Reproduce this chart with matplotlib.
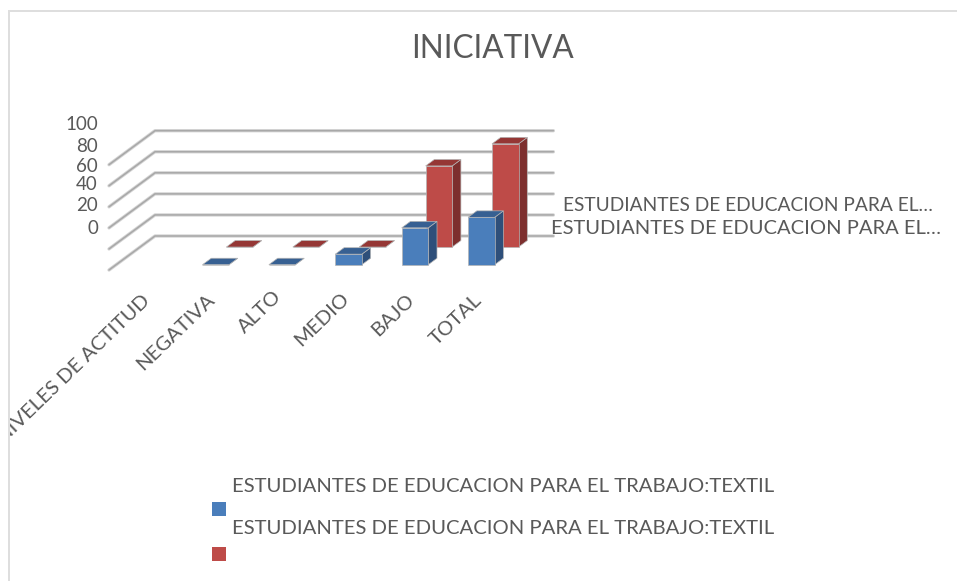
import matplotlib
matplotlib.use("agg")
import matplotlib.pyplot as plt
from matplotlib.patches import Polygon, Rectangle
from matplotlib.transforms import Bbox, TransformedBbox

W, H = 957, 581

categories = ['NIVELES DE ACTITUD', 'NEGATIVA', 'ALTO', 'MEDIO', 'BAJO', 'TOTAL']
series_name = 'ESTUDIANTES DE EDUCACION PARA EL TRABAJO:TEXTIL'
short_name = 'ESTUDIANTES DE EDUCACION PARA EL…'
# the first category is a header row in the source, it has no bars
blue_values = [None, 0, 0, 10, 35, 45]
red_values = [None, 0, 0, 0, 77, 98]
y_ticks = [0, 20, 40, 60, 80, 100]

plt.rcParams['font.family'] = ['Lato', 'DejaVu Sans']
TXT = '#595959'

fig = plt.figure(figsize=(W / 100, H / 100), dpi=100)


def px(x, y):
    return x / W, 1 - y / H


# axes: x is the category index, y the value, on the front edge of the floor
x0, y0 = 109, 270
cat_w, val_h = 66.4, 1.053
ax = fig.add_axes([x0 / W, 1 - y0 / H, 6 * cat_w / W, 100 * val_h / H])
ax.set_xlim(0, 6)
ax.set_ylim(0, 100)
ax.axis('off')

# depth of the oblique view, in data units
depth_x = 46 / cat_w
depth_y = 34 / val_h


def proj(c, d, v):
    return c + d * depth_x, v + d * depth_y


def draw_bar(c, v, d0, d1, front, side, top):
    if v is None:
        return
    c0, c1 = c + 0.3, c + 0.7
    faces = [
        ([proj(c1, d0, 0), proj(c1, d1, 0), proj(c1, d1, v), proj(c1, d0, v)], side),
        ([proj(c0, d0, v), proj(c1, d0, v), proj(c1, d1, v), proj(c0, d1, v)], top),
        ([proj(c0, d0, 0), proj(c1, d0, 0), proj(c1, d0, v), proj(c0, d0, v)], front),
    ]
    for pts, col in faces:
        ax.add_patch(Polygon(pts, closed=True, facecolor=col, edgecolor='#b5b5b5',
                             linewidth=0.5, clip_on=False, zorder=3))


# gridlines run along the back wall and down the side
for t in y_ticks:
    xs = [proj(0, 0, t)[0], proj(0, 1, t)[0], proj(6, 1, t)[0]]
    ys = [proj(0, 0, t)[1], proj(0, 1, t)[1], proj(6, 1, t)[1]]
    ax.plot(xs, ys, color='#d4d4d4', lw=2.4, clip_on=False, zorder=1, solid_capstyle='round')
    ax.plot(xs, ys, color='#a8a8a8', lw=1.1, clip_on=False, zorder=2, solid_capstyle='round')

for i in range(len(categories)):
    draw_bar(i, red_values[i], 0.676, 0.866, '#be4b48', '#7d2f2e', '#953735')
for i in range(len(categories)):
    draw_bar(i, blue_values[i], 0.156, 0.346, '#4a7ebb', '#2e4f7a', '#376092')

# tick labels sit a bit off the gridlines, as in the source
tick_y = [228, 206, 185, 167, 147, 125]
for t, yy in zip(y_ticks, tick_y):
    xx, yy = px(98, yy)
    fig.text(xx, yy, str(t), fontsize=13.5, color=TXT, ha='right', va='center')

fig.text(*px(493, 49), 'INICIATIVA', fontsize=22.7, color=TXT, ha='center', va='center')

# frame of the chart: only top and left are visible
fig.add_artist(Rectangle(px(8, H), 2 / W, (H - 10) / H, transform=fig.transFigure,
                         facecolor='#dedede', edgecolor='none'))
fig.add_artist(Rectangle(px(8, 12), (W - 8) / W, 2 / H, transform=fig.transFigure,
                         facecolor='#dedede', edgecolor='none'))

# the first label runs into the frame and is cut there, same as the source
clip = TransformedBbox(Bbox([[10 / W, 0], [1, 1]]), fig.transFigure)
label_x = [147, 212, 279, 346, 412, 479]
label_y = [298, 297, 294, 296, 297, 297]
for name, lx, ly in zip(categories, label_x, label_y):
    xx, yy = px(lx, ly)
    t = fig.text(xx, yy, name, fontsize=14.6, color=TXT, rotation=44,
                 rotation_mode='anchor', ha='right', va='center')
    t.set_clip_box(clip)
    t.set_clip_on(True)

fig.text(*px(563, 205), short_name, fontsize=13.8, color=TXT, ha='left', va='center')
fig.text(*px(551, 228), short_name, fontsize=14.5, color=TXT, ha='left', va='center')

fig.text(*px(232, 487), series_name, fontsize=14.6, color=TXT, ha='left', va='center')
fig.text(*px(232, 529), series_name, fontsize=14.6, color=TXT, ha='left', va='center')
for yy, col in [(516, '#4a7ebb'), (561, '#be4b48')]:
    fig.add_artist(Rectangle(px(212, yy), 14 / W, 14 / H, transform=fig.transFigure,
                             facecolor=col, edgecolor='none'))

fig.savefig('out.png', dpi=100)
